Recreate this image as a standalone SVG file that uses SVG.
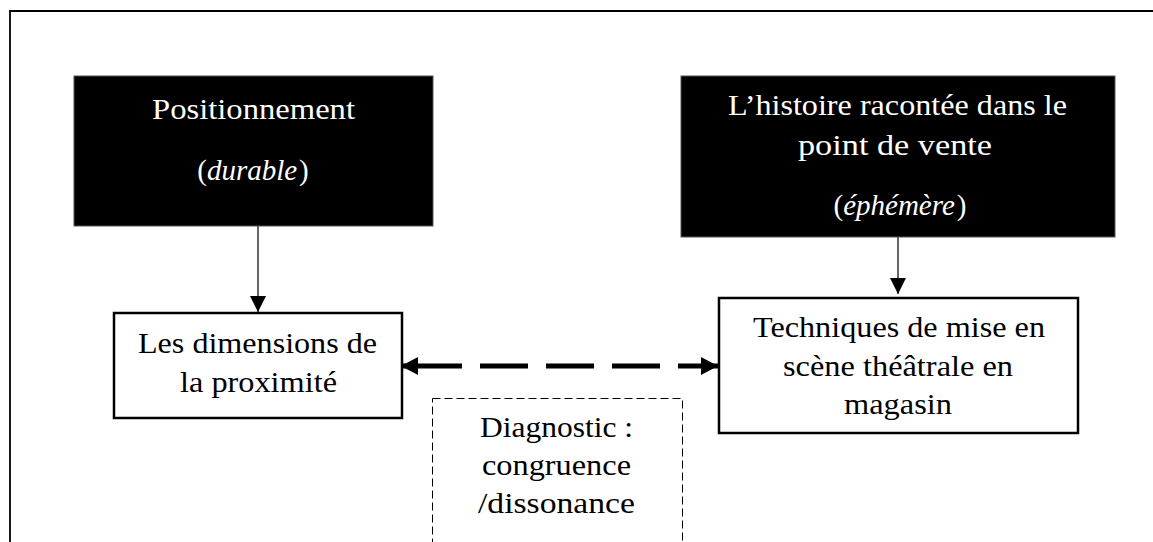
<svg xmlns="http://www.w3.org/2000/svg" width="1153" height="542" viewBox="0 0 1153 542">
  <defs>
    <style>
      .t { font-family: "Liberation Serif", "Times New Roman", serif; font-size: 29px; }
      .c { text-anchor: middle; }
      .w { fill: #ffffff; }
      .k { fill: #000000; }
      .dark { fill: #000000; stroke: #555555; stroke-width: 1; }
      .box { fill: #ffffff; stroke: #000000; stroke-width: 2.5; }
      .dash { fill: none; stroke: #000000; stroke-width: 1; stroke-dasharray: 8 4; }
      .thin { fill: none; stroke: #333333; stroke-width: 1.5; }
      .thick { fill: none; stroke: #000000; stroke-width: 5; stroke-dasharray: 61 18 48 18 48 18 48 18 40; }
    </style>
    <marker id="ah" markerUnits="userSpaceOnUse" markerWidth="16" markerHeight="16" refX="16" refY="8" orient="auto">
      <path d="M0,0 L16,8 L0,16 z" fill="#000000"/>
    </marker>
    <marker id="ahb" markerUnits="userSpaceOnUse" markerWidth="17" markerHeight="18" refX="17" refY="9" orient="auto-start-reverse">
      <path d="M0,0 L17,9 L0,18 z" fill="#000000"/>
    </marker>
  </defs>
  <rect x="0" y="0" width="1153" height="542" fill="#ffffff"/>

  <g id="frame">
    <path d="M10,542 L10,11 L1153,11" fill="none" stroke="#000000" stroke-width="1.8"/>
  </g>

  <g id="connectors">
    <line class="thin" x1="258" y1="226" x2="258" y2="312" marker-end="url(#ah)"/>
    <line class="thin" x1="898" y1="237" x2="898" y2="294" marker-end="url(#ah)"/>
    <line class="thick" x1="401" y1="366" x2="718" y2="366" marker-start="url(#ahb)" marker-end="url(#ahb)"/>
  </g>

  <g id="node-positionnement">
    <rect class="dark" x="74" y="76" width="359" height="150"/>
    <text class="t w" x="152" y="119" textLength="203" lengthAdjust="spacingAndGlyphs">Positionnement</text>
    <text class="t w c" x="253" y="180">(<tspan font-style="italic">durable</tspan><tspan dx="2">)</tspan></text>
  </g>

  <g id="node-histoire">
    <rect class="dark" x="681" y="76" width="434" height="161"/>
    <text class="t w" x="728" y="115" textLength="339" lengthAdjust="spacingAndGlyphs">L’histoire racontée dans le</text>
    <text class="t w" x="798" y="155" textLength="194" lengthAdjust="spacingAndGlyphs">point de vente</text>
    <text class="t w c" x="900" y="215">(<tspan font-style="italic">éphémère</tspan><tspan dx="2">)</tspan></text>
  </g>

  <g id="node-dimensions">
    <rect class="box" x="114" y="313" width="288" height="105"/>
    <text class="t k" x="138" y="353" textLength="239" lengthAdjust="spacingAndGlyphs">Les dimensions de</text>
    <text class="t k" x="180" y="392" textLength="157" lengthAdjust="spacingAndGlyphs">la proximité</text>
  </g>

  <g id="node-techniques">
    <rect class="box" x="719" y="298" width="359" height="135"/>
    <text class="t k" x="753" y="337" textLength="292" lengthAdjust="spacingAndGlyphs">Techniques de mise en</text>
    <text class="t k" x="783" y="376" textLength="230" lengthAdjust="spacingAndGlyphs">scène théâtrale en</text>
    <text class="t k" x="844" y="414" textLength="108" lengthAdjust="spacingAndGlyphs">magasin</text>
  </g>

  <g id="node-diagnostic">
    <rect class="dash" x="432.5" y="398.5" width="250" height="160"/>
    <text class="t k" x="480" y="437" textLength="153" lengthAdjust="spacingAndGlyphs">Diagnostic :</text>
    <text class="t k" x="482" y="475" textLength="149" lengthAdjust="spacingAndGlyphs">congruence</text>
    <text class="t k" x="478" y="513" textLength="157" lengthAdjust="spacingAndGlyphs">/dissonance</text>
  </g>
</svg>
